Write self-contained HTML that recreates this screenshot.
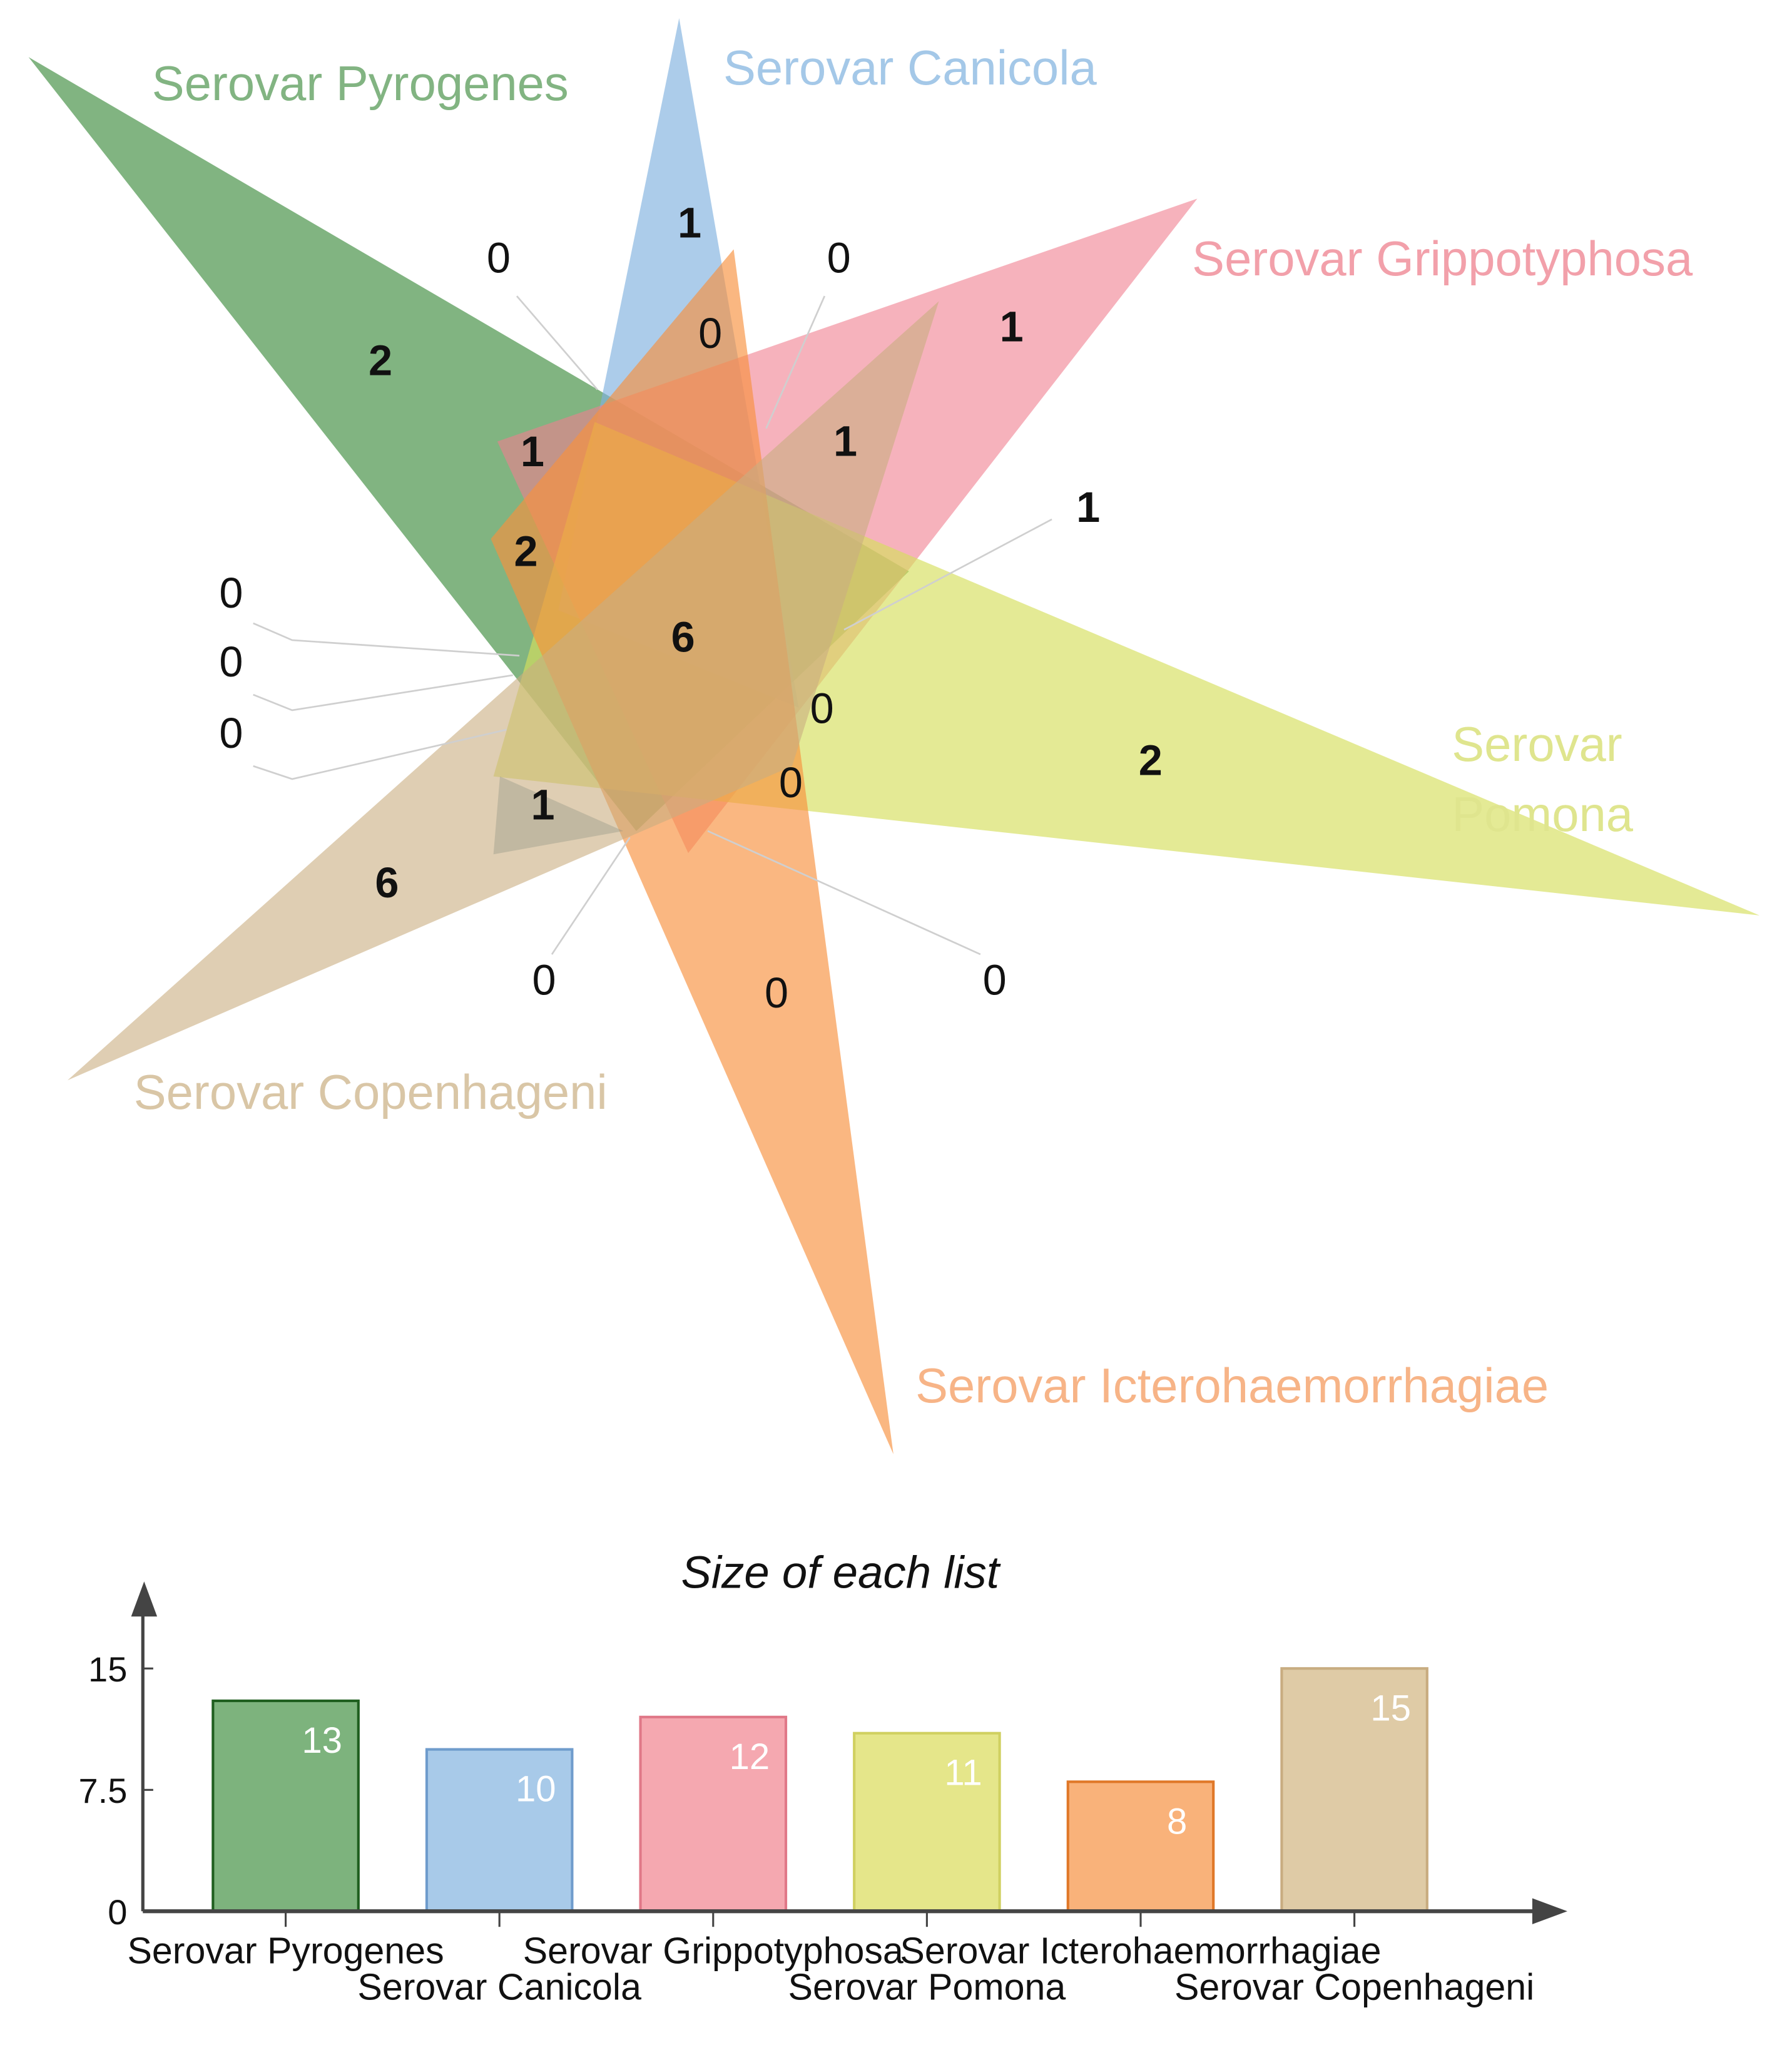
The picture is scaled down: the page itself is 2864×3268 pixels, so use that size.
<!DOCTYPE html>
<html><head><meta charset="utf-8"><style>
html,body{margin:0;padding:0;background:#fff;}
svg{display:block;font-family:"Liberation Sans",sans-serif;}
</style></head><body>
<svg id="c" width="2864" height="3268" viewBox="0 0 1380 1575" preserveAspectRatio="none">
<g id="venn">
 <polygon points="22,44 700,440 490,640" fill="#3d8c3d" fill-opacity="0.65"/>
 <polygon points="523,14 430,470 615,545" fill="#7fb1de" fill-opacity="0.65"/>
 <polygon points="922,153 383,340 530,657" fill="#f07f8f" fill-opacity="0.6"/>
 <polygon points="1355,705 380,598 458,325" fill="#d6df5c" fill-opacity="0.65"/>
 <polygon points="688,1120 565,192 378,415" fill="#f7903e" fill-opacity="0.65"/>
 <polygon points="52,832 723,232 610,590" fill="#c9ad80" fill-opacity="0.6"/>
 <polygon points="380,658 385,598 480,640" fill="#8a8f80" fill-opacity="0.35"/>
 <g stroke="#cfcfcf" stroke-width="1.3" fill="none">
  <path d="M398,228 L460,300"/><path d="M635,228 L590,330"/><path d="M810,400 L650,485"/>
  <path d="M195,480 L225,493 L400,505"/><path d="M195,535 L225,547 L395,520"/><path d="M195,590 L225,600 L390,562"/>
  <path d="M425,735 L485,645"/><path d="M755,735 L545,640"/>
 </g>
 <g font-size="33" fill="#111" text-anchor="middle">
  <text x="531" y="183" font-weight="bold">1</text><text x="384" y="210">0</text><text x="646" y="210">0</text>
  <text x="547" y="268">0</text><text x="293" y="289" font-weight="bold">2</text><text x="779" y="263" font-weight="bold">1</text>
  <text x="410" y="359" font-weight="bold">1</text><text x="651" y="351" font-weight="bold">1</text><text x="838" y="402" font-weight="bold">1</text>
  <text x="405" y="436" font-weight="bold">2</text><text x="526" y="502" font-weight="bold">6</text>
  <text x="178" y="468">0</text><text x="178" y="521">0</text><text x="178" y="576">0</text>
  <text x="633" y="557">0</text><text x="609" y="614">0</text><text x="886" y="597" font-weight="bold">2</text>
  <text x="418" y="631" font-weight="bold">1</text><text x="298" y="691" font-weight="bold">6</text>
  <text x="419" y="766">0</text><text x="598" y="776">0</text><text x="766" y="766">0</text>
 </g>
 <g font-size="37.5">
  <text x="117" y="77" fill="#82b482">Serovar Pyrogenes</text>
  <text x="557" y="65" fill="#a4c8e8">Serovar Canicola</text>
  <text x="918" y="212" fill="#f2a0aa">Serovar Grippotyphosa</text>
  <text x="1118" y="586" fill="#dfe58e">Serovar</text>
  <text x="1118" y="640" fill="#dfe58e">Pomona</text>
  <text x="103" y="854" fill="#d9c6a6">Serovar Copenhageni</text>
  <text x="705" y="1080" fill="#f7b487">Serovar Icterohaemorrhagiae</text>
 </g>
</g>
<g id="bars">
 <text x="647" y="1223" font-size="35" font-style="italic" text-anchor="middle" fill="#111">Size of each list</text>
</g>
</svg>
<script>
const categories = ["Serovar Pyrogenes","Serovar Canicola","Serovar Grippotyphosa","Serovar Pomona","Serovar Icterohaemorrhagiae","Serovar Copenhageni"];
const values = [13,10,12,11,8,15];
const tickValues = [0,7.5,15];
const tickLabels = ["0","7.5","15"];
const fills = ["#7db37d","#a8cae9","#f5a8b0","#e5e68a","#f9b27a","#dfcba6"];
const strokes = ["#1f5f1f","#6f9ccc","#e07888","#d0d060","#e07828","#c8ac80"];
const NS="http://www.w3.org/2000/svg";
const g=document.getElementById('bars');
const x0=110,y0=1472,yTop=1285,vMax=15;
const y=v=>y0-(v/vMax)*(y0-yTop);
const xc=i=>220+i*164.6;
function mk(t,a){const e=document.createElementNS(NS,t);for(const k in a)e.setAttribute(k,a[k]);g.appendChild(e);return e;}
values.forEach((v,i)=>{
  const r=mk('rect',{x:xc(i)-56,y:y(v),width:112,height:y0-y(v),fill:fills[i],stroke:strokes[i],'stroke-width':2});
  
  
  const t=mk('text',{x:xc(i)+28,y:y(v)+40,'font-size':28,fill:'#fff','text-anchor':'middle'});
  t.textContent=v;
  
  
  const tk=mk('line',{x1:xc(i),x2:xc(i),y1:y0,y2:y0+12,stroke:'#444','stroke-width':1.5});
  
  
  const l=mk('text',{x:xc(i),y:i%2===0?1512:1540,'font-size':28.5,fill:'#111','text-anchor':'middle'});
  l.textContent=categories[i];
  
  
});
const ax=mk('line',{x1:x0,x2:1185,y1:y0,y2:y0,stroke:'#444','stroke-width':3});


const axa=mk('polygon',{points:'1180,1462 1207,1472 1180,1482',fill:'#444'});


const ay=mk('line',{x1:x0,x2:x0,y1:y0,y2:1240,stroke:'#444','stroke-width':2.5});


const aya=mk('polygon',{points:'101,1245 111,1218 121,1245',fill:'#444'});


tickValues.forEach((v,i)=>{
  const tl=mk('line',{x1:x0,x2:x0+8,y1:y(v),y2:y(v),stroke:'#444','stroke-width':1.5});
  
  
  const tt=mk('text',{x:x0-12,y:y(v)+10,'font-size':27,fill:'#111','text-anchor':'end'});
  tt.textContent=tickLabels[i];
  
  
});
</script>
</body></html>
